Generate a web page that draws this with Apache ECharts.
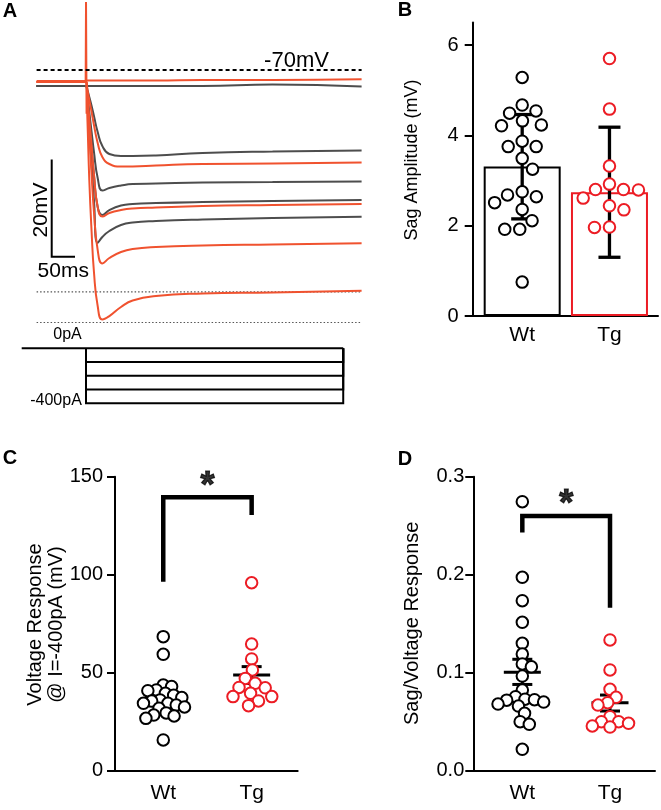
<!DOCTYPE html>
<html><head><meta charset="utf-8">
<script src="https://cdn.jsdelivr.net/npm/echarts@6/dist/echarts.min.js"></script>
<style>html,body{margin:0;padding:0;background:#fff}#c{width:661px;height:810px}</style>
</head><body><div id="c"></div><script>
// ---------------- DATA ----------------
const categories = ['Wt', 'Tg'];

// Panel A: membrane potential traces (ms relative to step onset, mV)
const traceTimes = [-106, 0, 3, 7, 12, 17, 25, 35, 50, 75, 100, 150, 250, 400, 591];
const wtV0   = [-73.29,-73.29,-73.29,-73.29,-73.29,-73.29,-73.29,-73.29,-73.29,-73.29,-73.29,-73.29,-73.29,-72.98,-73.39];
const wtV100 = [-73.29,-73.29,-74.11,-75.55,-77.40,-79.46,-82.74,-85.62,-87.27,-87.68,-87.68,-87.57,-87.06,-86.75,-86.55];
const wtV200 = [-73.29,-73.29,-75.14,-78.63,-82.74,-86.85,-92.20,-94.77,-94.25,-93.74,-93.43,-93.33,-93.12,-93.02,-92.92];
const wtV300 = [-73.29,-73.29,-75.76,-80.28,-86.03,-91.58,-98.16,-99.80,-98.78,-97.85,-97.54,-97.34,-97.13,-96.93,-96.72];
const wtV400 = [-73.29,-73.29,-76.58,-82.33,-89.53,-96.72,-105.56,-104.33,-103.09,-101.86,-101.35,-101.04,-100.73,-100.42,-100.15];
const tgV0   = [-72.26,-72.26,-72.16,-72.16,-72.16,-72.16,-72.16,-72.16,-72.16,-72.16,-72.16,-72.16,-72.06,-72.06,-71.91];
const tgV100 = [-72.47,-72.47,-74.11,-76.17,-78.63,-81.31,-85.00,-87.88,-89.32,-89.84,-89.84,-89.63,-89.32,-89.22,-89.01];
const tgV200 = [-72.47,-72.47,-75.14,-79.87,-85.62,-91.38,-98.16,-100.11,-99.39,-98.78,-98.47,-98.26,-97.95,-97.75,-97.54];
const tgV300 = [-72.47,-72.47,-76.78,-83.36,-91.58,-99.19,-107.00,-109.77,-108.64,-107.41,-106.79,-106.38,-106.07,-105.87,-105.62];
const tgV400 = [-72.47,-72.47,-80.28,-92.61,-103.30,-111.52,-118.51,-121.28,-120.57,-118.71,-117.38,-116.45,-115.94,-115.73,-115.36];
const artifactT = [-0.8, 0, 1.2];
const artifactV = [-72.4, -56, -79];
const restLine = -70;
const refLevels = [-115.6, -121.9];
const scaleBarMs = 50, scaleBarMv = 20, scaleBarT = -73.6, scaleBarV = -108.4;

// current steps (pA)
const stepLevels = [0, -100, -200, -300, -400];
const stepStart = 0, stepEnd = 552, stimPre = -138;

// Panel B: sag amplitude (mV)
const wtSag = [5.28,4.67,4.54,4.49,4.32,4.23,4.21,3.87,3.75,3.75,3.49,3.25,2.75,2.68,2.64,2.51,2.36,2.11,1.92,1.92,0.75];
const tgSag = [5.70,4.58,3.32,2.92,2.80,2.80,2.79,2.61,2.44,2.35,1.97,1.96];
const sagBar = [3.31, 2.74];
const sagLow = [2.15, 1.30];
const sagHigh = [4.46, 4.18];
const bTicks = [0, 2, 4, 6];

// Panel C: voltage response @ -400 pA (mV)
const wtVolt = [68.4,59.4,43.7,42.9,41.2,40.8,39.5,38.5,37.3,36.1,35.5,34.4,34.4,33.5,32.5,31.8,29.5,28.4,27.9,26.7,15.7];
const tgVolt = [95.9,64.6,57.0,51.4,47.1,44.6,42.5,42.3,39.5,37.8,37.8,35.6,33.2];
const voltMean = [37.05, 48.8];
const voltLow = [34.6, 44.5];
const voltHigh = [39.5, 53.1];
const cTicks = [0, 50, 100, 150];
const cBracket = [96.4, 139.5, 130.5];
const cStar = 144.5;

// Panel D: sag / voltage response
const wtRatio = [0.2745,0.1973,0.1735,0.1514,0.130,0.119,0.1089,0.106,0.0966,0.0823,0.0755,0.0730,0.0725,0.0720,0.0700,0.0680,0.0660,0.0586,0.0500,0.0473,0.0218];
const tgRatio = [0.1334,0.1028,0.0830,0.0749,0.0694,0.0670,0.0551,0.0500,0.0500,0.0484,0.0456,0.0445];
const ratioMean = [0.1004, 0.0694];
const ratioLow = [0.088, 0.0609];
const ratioHigh = [0.1137, 0.0772];
const dTicks = [0, 0.1, 0.2, 0.3];
const dBracket = [0.243, 0.260, 0.1664];
const dStar = 0.2712;

// ---------------- STYLE / LAYOUT ----------------
const FONT = "'Liberation Sans', Arial, Helvetica, sans-serif";
const NARROW = "'Liberation Sans Narrow', 'Arial Narrow', 'Liberation Sans', Arial, sans-serif";
const BLACK = '#000';
const RED = '#ec1c24';
const T_RED = '#f0522f';
const T_GRAY = '#4d4d4d';

const LA = {left: 36.6, top: 0, width: 325, height: 337.6, xMin: -106, xMax: 591, yMin: -125, yMax: -55.61};
const LS = {left: 21.7, top: 345.55, width: 339.7, height: 60.5, xMin: -138, xMax: 591, yMin: -420, yMax: 20};
const LB = {left: 472.7, top: 22.4, width: 185.3, height: 293.6, xMin: 0.433, xMax: 2.556, yMin: 0, yMax: 6.5};
const LC = {left: 115, top: 476.7, width: 182.7, height: 294, xMin: 0.454, xMax: 2.521, yMin: 0, yMax: 150};
const LD = {left: 473.3, top: 476.7, width: 181.7, height: 294, xMin: 0.441, xMax: 2.513, yMin: 0, yMax: 0.3};
const layouts = [LA, LS, LB, LC, LD];

// beeswarm layout in pixel space, returned in data units
function swarm(values, cat, L, dist) {
  const xPx = L.width / (L.xMax - L.xMin);
  const yPx = L.height / (L.yMax - L.yMin);
  const order = values.map((v, i) => i).sort((a, b) => values[b] - values[a]);
  const placed = [];
  const out = new Array(values.length);
  let side = 1;
  order.forEach(i => {
    const y = values[i] * yPx;
    const cands = [0];
    placed.forEach(p => {
      const dy = Math.abs(p.y - y);
      if (dy < dist) {
        const dx = Math.sqrt(dist * dist - dy * dy);
        cands.push(p.x + dx, p.x - dx);
      }
    });
    const ok = cands.filter(c => placed.every(p => (p.x - c) * (p.x - c) + (p.y - y) * (p.y - y) >= dist * dist - 1e-6));
    ok.sort((a, b) => (Math.abs(a) - Math.abs(b)) || (side * (b - a)));
    const c = ok[0];
    if (c !== 0) side = -Math.sign(c);
    placed.push({x: c, y: y});
    out[i] = [cat + c / xPx, values[i]];
  });
  return out;
}

function trace(vals, color) {
  return {type: 'line', xAxisIndex: 0, yAxisIndex: 0, silent: true,
    data: traceTimes.map((t, i) => [t, vals[i]]),
    smooth: 0.5, symbol: 'none',
    lineStyle: {color: color, width: 2}, z: color === T_RED ? 4 : 3};
}
function seg(gi, data, style, z) {
  return {type: 'line', xAxisIndex: gi, yAxisIndex: gi, data: data, symbol: 'none', silent: true,
    lineStyle: Object.assign({color: BLACK, width: 2, cap: 'butt', join: 'miter'}, style), z: z || 2};
}
function dots(vals, cat, gi, L, color, dist) {
  return {type: 'scatter', xAxisIndex: gi, yAxisIndex: gi, silent: true,
    data: swarm(vals, cat, L, dist), symbol: 'circle', symbolSize: 11.5,
    itemStyle: {color: '#fff', borderColor: color, borderWidth: 2, opacity: 1}, z: 6};
}
function errBars(gi, means, lows, highs, capW, meanW, lw) {
  return {type: 'custom', xAxisIndex: gi, yAxisIndex: gi, silent: true, z: 4,
    data: means.map((m, i) => [i + 1, m, lows[i], highs[i]]),
    encode: {x: 0, y: [1, 2, 3]},
    renderItem: function (params, api) {
      const x = api.value(0);
      const pm = api.coord([x, api.value(1)]);
      const pl = api.coord([x, api.value(2)]);
      const ph = api.coord([x, api.value(3)]);
      const st = {stroke: BLACK, lineWidth: lw, fill: null};
      const ch = [
        {type: 'line', shape: {x1: pl[0], y1: pl[1], x2: ph[0], y2: ph[1]}, style: st},
        {type: 'line', shape: {x1: ph[0] - capW / 2, y1: ph[1], x2: ph[0] + capW / 2, y2: ph[1]}, style: st},
        {type: 'line', shape: {x1: pl[0] - capW / 2, y1: pl[1], x2: pl[0] + capW / 2, y2: pl[1]}, style: st}
      ];
      if (meanW) ch.push({type: 'line', shape: {x1: pm[0] - meanW / 2, y1: pm[1], x2: pm[0] + meanW / 2, y2: pm[1]}, style: st});
      return {type: 'group', children: ch};
    }};
}
function star(gi, y) {
  return {type: 'scatter', xAxisIndex: gi, yAxisIndex: gi, silent: true, data: [[1.5, y]],
    symbolSize: 1, itemStyle: {color: 'rgba(0,0,0,0)'}, z: 10,
    label: {show: true, position: 'inside', formatter: '*', fontSize: 36, fontWeight: 'bold', color: BLACK,
      textBorderColor: BLACK, textBorderWidth: 1.2, fontFamily: FONT}};
}
function catX(gi, L, margin) {
  return {gridIndex: gi, type: 'value', min: L.xMin, max: L.xMax,
    axisLine: {show: true, onZero: false, lineStyle: {color: BLACK, width: 2}},
    axisTick: {show: false}, splitLine: {show: false},
    axisLabel: {customValues: [1, 2], formatter: v => categories[Math.round(v) - 1] || '',
      fontSize: 21, color: BLACK, margin: margin, fontFamily: FONT}};
}
function valY(gi, L, ticks, fmt, margin) {
  return {gridIndex: gi, type: 'value', min: L.yMin, max: L.yMax,
    axisLine: {show: true, onZero: false, lineStyle: {color: BLACK, width: 2}},
    axisTick: {show: true, customValues: ticks, length: 8, lineStyle: {color: BLACK, width: 2}},
    splitLine: {show: false},
    axisLabel: {customValues: ticks, formatter: fmt, fontSize: 20, color: BLACK, margin: margin, fontFamily: FONT}};
}
function hidden(gi, L) {
  return {gridIndex: gi, type: 'value', min: L.xMin, max: L.xMax, show: false};
}
function hiddenY(gi, L) {
  return {gridIndex: gi, type: 'value', min: L.yMin, max: L.yMax, show: false};
}
function txt(x, y, text, size, opts) {
  opts = opts || {};
  return {type: 'text', x: x, y: y, rotation: opts.rot || 0, silent: true, z: 20,
    style: {text: text, fontSize: size, fontFamily: opts.family || FONT, fontWeight: opts.bold ? 'bold' : 'normal',
      fill: BLACK, align: 'center', verticalAlign: 'middle', textAlign: 'center', textVerticalAlign: 'middle',
      lineHeight: opts.lh || size}};
}

// ---------------- SERIES ----------------
const series = [];
[wtV0, wtV100, wtV200, wtV300, wtV400].forEach(v => series.push(trace(v, T_GRAY)));
[tgV0, tgV100, tgV200, tgV300, tgV400].forEach(v => series.push(trace(v, T_RED)));
series.push(seg(0, artifactT.map((t, i) => [t, artifactV[i]]), {color: T_RED, width: 2}, 5));
series.push(seg(0, [[LA.xMin, restLine], [LA.xMax, restLine]], {type: [4, 3], width: 2}, 6));
refLevels.forEach(v => series.push(seg(0, [[LA.xMin, v], [LA.xMax, v]], {type: [1.5, 2], width: 1.2, color: '#555'}, 2)));
series.push(seg(0, [[scaleBarT, scaleBarV + scaleBarMv], [scaleBarT, scaleBarV], [scaleBarT + scaleBarMs, scaleBarV]], {width: 2}, 6));
stepLevels.forEach(I => {
  const d = I === 0 ? [[stimPre, 0], [stepEnd, 0]] : [[stepStart, 0], [stepStart, I], [stepEnd, I], [stepEnd, 0]];
  series.push(seg(1, d, {width: 2}, 2));
});

// B
series.push({type: 'bar', xAxisIndex: 2, yAxisIndex: 2, silent: true, barWidth: 77, z: 1,
  data: sagBar.map((v, i) => ({value: [i + 1, v], itemStyle: {color: '#fff', borderColor: i === 0 ? BLACK : RED, borderWidth: 2}}))});
series.push(errBars(2, sagBar, sagLow, sagHigh, 22, 0, 3.3));
series.push(dots(wtSag, 1, 2, LB, BLACK, 15));
series.push(dots(tgSag, 2, 2, LB, RED, 15));

// C
series.push(errBars(3, voltMean, voltLow, voltHigh, 20, 37, 3));
series.push(dots(wtVolt, 1, 3, LC, BLACK, 8.5));
series.push(dots(tgVolt, 2, 3, LC, RED, 11));
series.push(seg(3, [[1, cBracket[0]], [1, cBracket[1]], [2, cBracket[1]], [2, cBracket[2]]], {width: 4.5}, 3));
series.push(star(3, cStar));

// D
series.push(errBars(4, ratioMean, ratioLow, ratioHigh, 20, 37, 3));
series.push(dots(wtRatio, 1, 4, LD, BLACK, 9.5));
series.push(dots(tgRatio, 2, 4, LD, RED, 10));
series.push(seg(4, [[1, dBracket[0]], [1, dBracket[1]], [2, dBracket[1]], [2, dBracket[2]]], {width: 4.5}, 3));
series.push(star(4, dStar));

const option = {
  animation: false,
  backgroundColor: '#fff',
  textStyle: {fontFamily: FONT},
  grid: layouts.map(L => ({left: L.left, top: L.top, width: L.width, height: L.height, containLabel: false})),
  xAxis: [hidden(0, LA), hidden(1, LS), catX(2, LB, 9), catX(3, LC, 12), catX(4, LD, 12)],
  yAxis: [hiddenY(0, LA), hiddenY(1, LS),
    valY(2, LB, bTicks, v => String(v), 14),
    valY(3, LC, cTicks, v => String(v), 12),
    valY(4, LD, dTicks, v => v.toFixed(1), 9)],
  series: series,
  graphic: [
    txt(10, 11, 'A', 20, {bold: true}),
    txt(405, 10, 'B', 20, {bold: true}),
    txt(10, 458, 'C', 20, {bold: true}),
    txt(405, 459, 'D', 20, {bold: true}),
    txt(296.5, 61, '-70mV', 22),
    txt(41.5, 210, '20mV', 21, {rot: Math.PI / 2, family: NARROW}),
    txt(63.3, 271, '50ms', 21, {family: NARROW}),
    txt(67.5, 334.5, '0pA', 16),
    txt(56, 401, '-400pA', 16),
    txt(412.5, 160, 'Sag Amplitude (mV)', 18, {rot: Math.PI / 2}),
    txt(45.8, 624.5, 'Voltage Response\n@ I=-400pA (mV)', 20, {rot: Math.PI / 2, lh: 21}),
    txt(412.5, 623.3, 'Sag/Voltage Response', 20, {rot: Math.PI / 2})
  ]
};
const chart = echarts.init(document.getElementById('c'), null, {renderer: 'canvas'});
chart.setOption(option);
</script></body></html>
